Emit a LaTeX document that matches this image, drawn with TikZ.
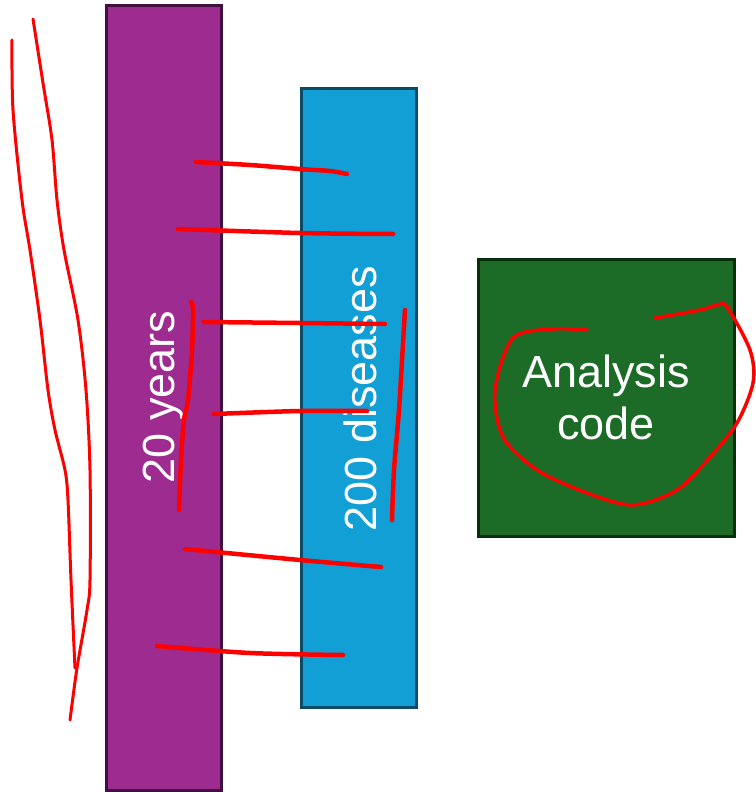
\documentclass[tikz,border=0pt]{standalone}
\usepackage{fontspec}
\newfontfamily\boxfont{Liberation Sans}
\definecolor{purplefill}{RGB}{158,43,143}
\definecolor{purpleedge}{RGB}{64,16,64}
\definecolor{bluefill}{RGB}{18,159,214}
\definecolor{blueedge}{RGB}{12,74,102}
\definecolor{greenfill}{RGB}{28,107,38}
\definecolor{greenedge}{RGB}{10,46,12}
\tikzset{
  bar/.style={draw,line width=3pt,text=white,font=\boxfont\fontsize{45}{52}\selectfont},
  scribble/.style={red,line width=4.5pt,line cap=round,line join=round},
  thinscribble/.style={scribble,line width=3pt}
}
\begin{document}
\begin{tikzpicture}[x=1pt,y=-1pt]
\useasboundingbox (0,0) rectangle (755,792);
\node[bar,fill=purplefill,draw=purpleedge,minimum width=115pt,minimum height=784pt] (years) at (163.5,398) {};
\node[rotate=90,text=white,font=\boxfont\fontsize{45}{52}\selectfont] (yearstext) at (163.5,397) {20 years};
\node[bar,fill=bluefill,draw=blueedge,minimum width=115pt,minimum height=619pt] (diseases) at (358.5,397.5) {};
\node[rotate=90,text=white,font=\boxfont\fontsize{45}{52}\selectfont] (diseasestext) at (360,398.5) {200 diseases};
\node[bar,fill=greenfill,draw=greenedge,minimum width=256pt,minimum height=277pt,align=center] (code) at (606,397.5) {Analysis\\code};
\draw[thinscribble] plot[smooth] coordinates {(12,40) (13,110) (22,200) (30,250) (40,320) (48,390) (55,430) (65,470) (68,500) (71,580) (75,668)};
\draw[thinscribble] plot[smooth] coordinates {(33,19) (43,83) (52,140) (57,200) (64,250) (78,320) (86,390) (90,470) (90,580) (87,610) (77,668) (70,720)};
\draw[scribble] plot[smooth] coordinates {(196,162) (250,165) (300,169) (330,171) (347,174)};
\draw[scribble] plot[smooth] coordinates {(178,229) (300,233) (393,234)};
\draw[scribble] plot[smooth] coordinates {(204,322) (300,323) (385,324)};
\draw[scribble] plot[smooth] coordinates {(214,414) (300,411) (367,411)};
\draw[scribble] plot[smooth] coordinates {(185,549) (300,560) (381,567)};
\draw[scribble] plot[smooth] coordinates {(157,646) (250,653) (343,655)};
\draw[scribble] plot[smooth] coordinates {(191,302) (193,310) (192,350) (188,400) (184,420) (181,460) (179,510)};
\draw[scribble] plot[smooth] coordinates {(405,310) (402,360) (399,410) (394,470) (392,520)};
\draw[scribble,line width=3.5pt] plot[smooth] coordinates {(587,330) (553,329) (513,338) (495,390) (503,437) (537,470) (587,493) (633,505) (677,490) (710,457) (737,423) (753,383) (750,350) (727,307) (717,305) (700,310) (655,318)};
\end{tikzpicture}
\end{document}
